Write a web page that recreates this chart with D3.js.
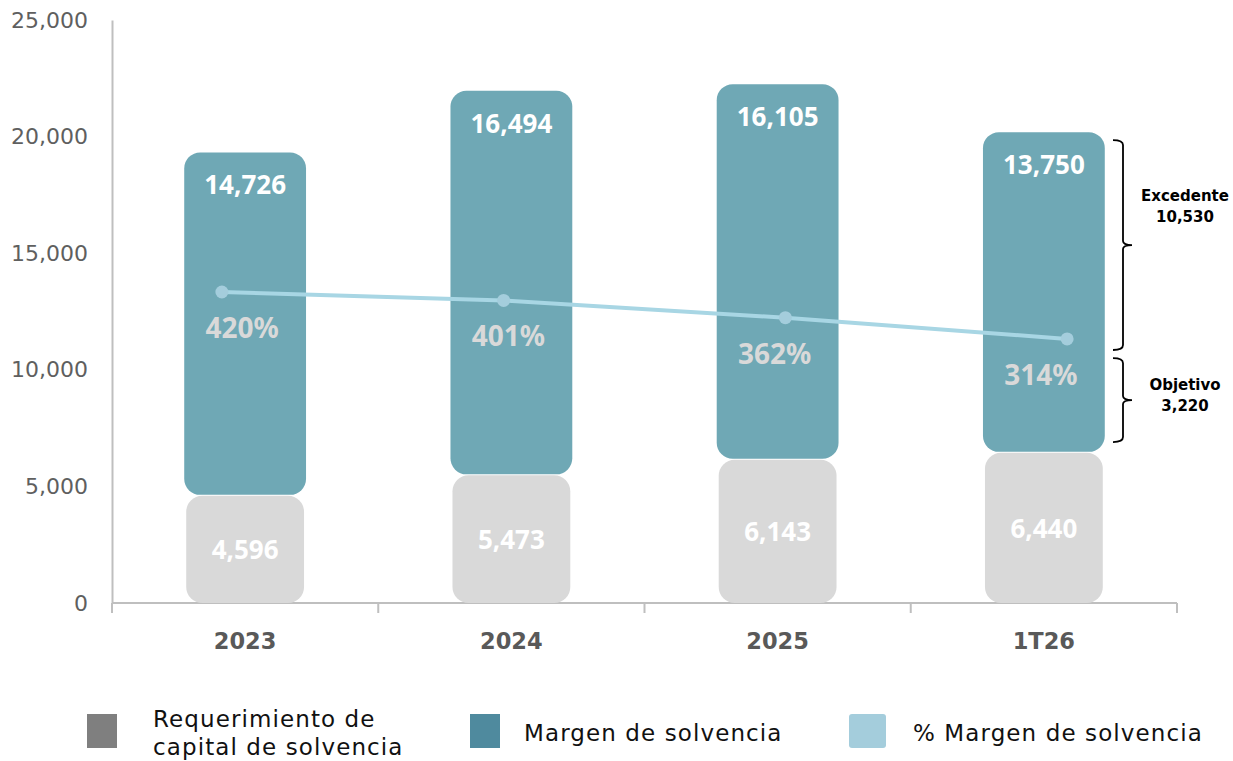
<!DOCTYPE html>
<html><head><meta charset="utf-8">
<script src="https://cdn.jsdelivr.net/npm/d3@7"></script>
<style>
body{margin:0;background:#fff;}
svg{display:block;font-family:"Noto Sans",Lato,sans-serif;}
.wide{font-family:"DejaVu Sans",sans-serif;}
</style></head>
<body><svg id="chart" width="1233" height="761"></svg>
<script>
const categories = ["2023","2024","2025","1T26"];
const requerimiento = [4596, 5473, 6143, 6440];
const margen = [14726, 16494, 16105, 13750];
const pctMargen = [420, 401, 362, 314];
const yTicks = [0, 5000, 10000, 15000, 20000, 25000];
const legendLabels = [["Requerimiento de","capital de solvencia"],["Margen de solvencia"],["% Margen de solvencia"]];
const brackets = [
  {label:"Excedente", value:"10,530", from:19850, to:10850},
  {label:"Objetivo", value:"3,220", from:10500, to:6900}
];

const svg = d3.select("#chart");
const fmt = d3.format(",");
const x = d3.scaleBand().domain(categories).range([112,1177]).paddingInner(0.55).paddingOuter(0.275);
const y = d3.scaleLinear().domain([0,25000]).range([603,20]);
const xLine = d3.scalePoint().domain(categories).range([112,1177]).padding(0.39);
const y2 = d3.scaleLinear().domain([-282,1034]).range([603,20]);

// y axis
const yAxis = svg.append("g").attr("transform","translate(112,0)")
  .call(d3.axisLeft(y).tickValues(yTicks).tickFormat(fmt).tickSize(0).tickPadding(24));
yAxis.select(".domain").attr("stroke","#bfbfbf").attr("stroke-width",2);
yAxis.selectAll("text").attr("class","wide").attr("fill","#5f5f5f").attr("font-size",22).attr("font-weight",400);

// x axis
const xAxisG = svg.append("g").attr("transform","translate(0,603)");
xAxisG.append("line").attr("x1",112).attr("x2",1177).attr("stroke","#bfbfbf").attr("stroke-width",2);
const edges = [x.range()[0]].concat(categories.map((c,i)=>x.range()[0] + (x.range()[1]-x.range()[0])*(i+1)/categories.length));
edges.forEach(e=>xAxisG.append("line").attr("x1",e).attr("x2",e).attr("y1",0).attr("y2",10).attr("stroke","#bfbfbf").attr("stroke-width",2));
xAxisG.selectAll("text.cat").data(categories).join("text").attr("class","wide")
  .attr("x",d=>x(d)+x.bandwidth()/2).attr("y",46).attr("text-anchor","middle")
  .attr("fill","#595959").attr("font-size",22.5).attr("font-weight",700).text(d=>d);

// bars
const bw = x.bandwidth();
svg.selectAll("rect.req").data(categories).join("rect")
  .attr("x",d=>x(d)+1).attr("width",bw-2)
  .attr("y",(d,i)=>y(requerimiento[i])).attr("height",(d,i)=>y(0)-y(requerimiento[i]))
  .attr("rx",16).attr("fill","#d9d9d9");
svg.selectAll("rect.mar").data(categories).join("rect")
  .attr("x",d=>x(d)-1).attr("width",bw+2)
  .attr("y",(d,i)=>y(requerimiento[i]+margen[i])).attr("height",(d,i)=>y(requerimiento[i])-y(requerimiento[i]+margen[i])-1)
  .attr("rx",16).attr("fill","#6fa8b5");

// bar labels
svg.selectAll("text.req").data(categories).join("text")
  .attr("x",d=>x(d)+bw/2).attr("y",(d,i)=>(y(0)+y(requerimiento[i]))/2+10)
  .attr("text-anchor","middle").attr("fill","#ffffff").attr("font-size",26).attr("font-weight",700)
  .text((d,i)=>fmt(requerimiento[i]));
svg.selectAll("text.mar").data(categories).join("text")
  .attr("x",d=>x(d)+bw/2).attr("y",(d,i)=>y(requerimiento[i]+margen[i])+42)
  .attr("text-anchor","middle").attr("fill","#ffffff").attr("font-size",26).attr("font-weight",700)
  .text((d,i)=>fmt(margen[i]));

// line
const line = d3.line().x((d,i)=>xLine(categories[i])).y(d=>y2(d));
svg.append("path").datum(pctMargen).attr("d",line).attr("fill","none").attr("stroke","#a8d6e4").attr("stroke-width",4);
svg.selectAll("circle.pt").data(pctMargen).join("circle")
  .attr("cx",(d,i)=>xLine(categories[i])).attr("cy",d=>y2(d)).attr("r",6.5).attr("fill","#a4cddc");
svg.selectAll("text.pct").data(pctMargen).join("text")
  .attr("x",(d,i)=>x(categories[i])+bw/2-3).attr("y",d=>y2(d)+46)
  .attr("text-anchor","middle").attr("fill","#d9d9d9").attr("font-size",28).attr("font-weight",700)
  .text(d=>d+"%");

// brackets
const bx = 1123;
const textOffsets = [-44, -10];
brackets.forEach((b,k)=>{
  const y0 = y(b.from), y1 = y(b.to), ym = (y0+y1)/2;
  const p = `M${bx-10},${y0} Q${bx},${y0} ${bx},${y0+5} L${bx},${ym-4} Q${bx},${ym} ${bx+9},${ym} Q${bx},${ym} ${bx},${ym+4} L${bx},${y1-5} Q${bx},${y1} ${bx-10},${y1}`;
  svg.append("path").attr("d",p).attr("fill","none").attr("stroke","#000").attr("stroke-width",1.8);
  const t = svg.append("text").attr("class","wide").attr("text-anchor","middle").attr("font-size",15).attr("font-weight",700).attr("fill","#000");
  t.append("tspan").attr("x",1185).attr("y",ym+textOffsets[k]).text(b.label);
  t.append("tspan").attr("x",1185).attr("y",ym+textOffsets[k]+21).text(b.value);
});

// legend
const legColors = ["#7f7f7f","#4f8a9e","#a4cddc"];
const legX = [87, 470, 849];
const legTextX = [153, 524, 913];
legendLabels.forEach((lbl,i)=>{
  svg.append("rect").attr("x",legX[i]).attr("y",714).attr("width",i==2?37:30).attr("height",34).attr("rx",i==2?3:0).attr("fill",legColors[i]);
  const t = svg.append("text").attr("class","wide").attr("font-size",23).attr("letter-spacing",1.1).attr("fill","#111").attr("font-weight",400);
  if(lbl.length==2){
    t.append("tspan").attr("x",legTextX[i]).attr("y",727).text(lbl[0]);
    t.append("tspan").attr("x",legTextX[i]).attr("y",755).text(lbl[1]);
  } else {
    t.append("tspan").attr("x",legTextX[i]).attr("y",741).text(lbl[0]);
  }
});
</script></body></html>
